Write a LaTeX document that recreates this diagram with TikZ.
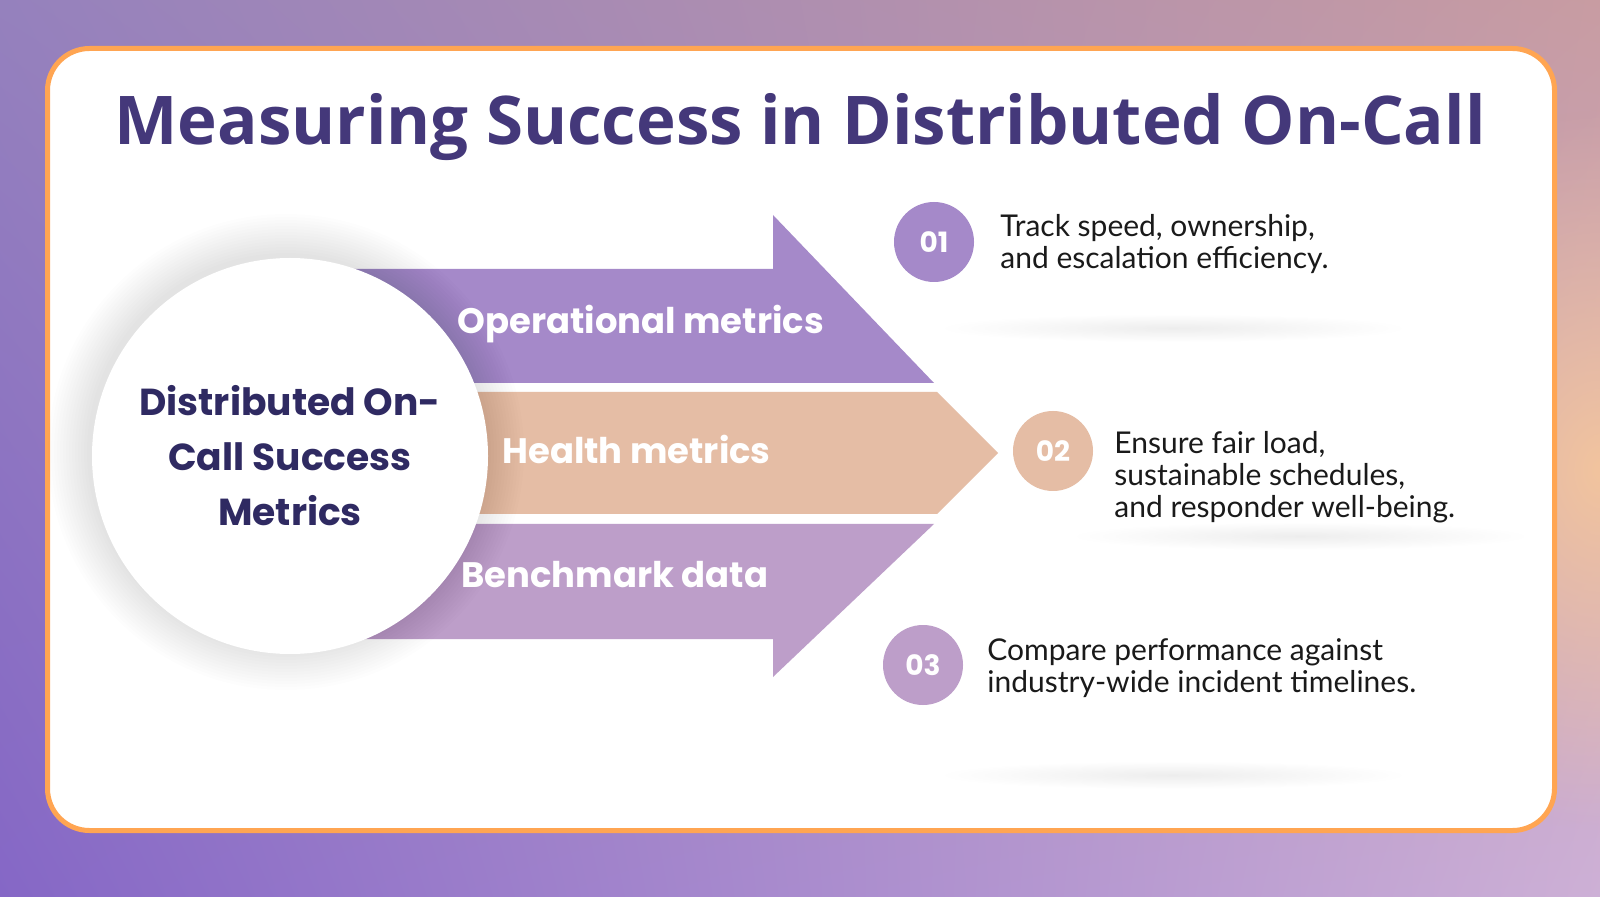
\documentclass[tikz,border=0pt]{standalone}
\usepackage{fontspec}
\setmainfont{Lato}
\newfontfamily\headfont{Open Sans}
\newfontfamily\popfont{Poppins}
\usetikzlibrary{positioning,shadings,fadings}
\definecolor{bgtl}{HTML}{9581BD}
\definecolor{bgtr}{HTML}{C89CA2}
\definecolor{bgbl}{HTML}{8567C6}
\definecolor{bgbr}{HTML}{CDB0D6}
\definecolor{bgpeach}{HTML}{F2C49E}
\definecolor{cardorange}{HTML}{FFA552}
\definecolor{titlenavy}{HTML}{44387A}
\definecolor{hubnavy}{HTML}{2F2A62}
\definecolor{opviolet}{HTML}{A589C9}
\definecolor{healthpeach}{HTML}{E5BDA5}
\definecolor{benchlilac}{HTML}{BD9EC9}
\definecolor{inktext}{HTML}{1A1A1A}
\tikzfading[name=peachglow, inner color=transparent!0, outer color=transparent!100]

\begin{document}
\begin{tikzpicture}[x=0.5pt, y=-0.5pt,
  numdot/.style={circle, minimum size=40pt, inner sep=0pt, text=white, font=\popfont\bfseries\fontsize{14}{14}\selectfont},
  desc/.style={anchor=west, align=left, inner sep=0pt, text=inktext, font=\fontsize{15}{16}\selectfont},
  barlabel/.style={anchor=west, inner sep=0pt, text=white, font=\popfont\bfseries\fontsize{17.7}{20}\selectfont},
  softline/.style={inner color=black!7, outer color=white}]
  \useasboundingbox (0,0) rectangle (1600,897);
  \shade[upper left=bgtl, upper right=bgtr, lower left=bgbl, lower right=bgbr] (0,0) rectangle (1600,897);
  \fill[bgpeach, path fading=peachglow] (1600,470) ellipse [x radius=260, y radius=360];
  \draw[cardorange, line width=2.5pt, fill=white, rounded corners=21pt] (47.5,48.5) rectangle (1554.5,830.5);
  \node[anchor=base, text=titlenavy, font=\headfont\bfseries\fontsize{33.6}{36}\selectfont] (title) at (800,145) {Measuring Success in Distributed On-Call};

  \fill[opviolet] (300,269) -- (773,269) -- (773,215) -- (934,383) -- (300,383) -- cycle;
  \fill[healthpeach] (300,392) -- (937,392) -- (998,453) -- (937,514) -- (300,514) -- cycle;
  \fill[benchlilac] (300,524) -- (934,524) -- (773,677) -- (773,639) -- (300,639) -- cycle;
  \foreach \r in {199,202,...,238}
    \fill[black, opacity=0.0065] (286,452) circle [radius=\r];
  \node[circle, fill=white, minimum size=198pt, inner sep=0pt, align=center, text=hubnavy,
    font=\popfont\bfseries\fontsize{18.8}{27.5}\selectfont]
    (hub) at (290,456) {Distributed On-\\Call Success\\Metrics};
  \node[barlabel] (opl) at (457,324) {Operational metrics};
  \node[barlabel] (hel) at (502,449) {Health metrics};
  \node[barlabel] (bel) at (461,575) {Benchmark data};

  \node[numdot, fill=opviolet] (n1) at (934,242) {01};
  \node[numdot, fill=healthpeach] (n2) at (1053,451) {02};
  \node[numdot, fill=benchlilac] (n3) at (923,665) {03};
  \node[desc] (d1) at (1000,244) {Track speed, ownership,\\and escalation efficiency.};
  \node[desc] (d2) at (1114,477) {Ensure fair load,\\sustainable schedules,\\and responder well-being.};
  \node[desc] (d3) at (987,668) {Compare performance against\\industry-wide incident timelines.};
  \shade[softline] (1173,328) ellipse [x radius=235, y radius=14];
  \shade[softline] (1300,536) ellipse [x radius=230, y radius=14];
  \shade[softline] (1173,775) ellipse [x radius=235, y radius=14];
\end{tikzpicture}
\end{document}
